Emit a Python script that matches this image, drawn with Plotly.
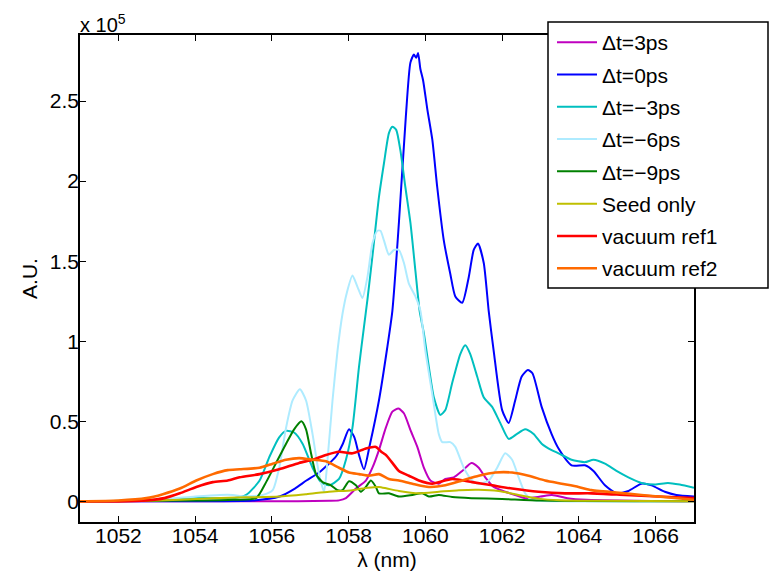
import plotly.graph_objects as go

# Spectra (wavelength in nm, intensity in units of 1e5 counts)
wl_p3 = [1051, 1056.0, 1057.5, 1057.75, 1057.93, 1058.19, 1058.45, 1058.62, 1058.79, 1058.97,
         1059.14, 1059.3, 1059.44, 1059.62, 1059.79, 1059.96, 1060.13, 1060.35, 1060.52, 1060.74,
         1060.96, 1061.2, 1061.39, 1061.56, 1061.78, 1062.08, 1062.34, 1062.6, 1063.0, 1063.3,
         1063.7, 1064.2, 1067]
dt_p3 = [0, 0.0, 0.003, 0.006, 0.02, 0.08, 0.13, 0.21, 0.32, 0.46,
         0.56, 0.58, 0.55, 0.44, 0.34, 0.21, 0.13, 0.11, 0.14, 0.15,
         0.19, 0.24, 0.21, 0.15, 0.09, 0.06, 0.04, 0.02, 0.03, 0.04,
         0.02, 0.01, 0]

wl_0 = [1051, 1054, 1055.5, 1056.2, 1056.6, 1056.9, 1057.23, 1057.67, 1057.85, 1058.01,
        1058.15, 1058.27, 1058.4, 1058.55, 1058.79, 1059.0, 1059.14, 1059.31, 1059.49, 1059.61,
        1059.7, 1059.76, 1059.81, 1059.87, 1059.94, 1060.05, 1060.18, 1060.31, 1060.48, 1060.65,
        1060.78, 1060.96, 1061.13, 1061.26, 1061.37, 1061.52, 1061.65, 1061.78, 1062.0, 1062.17,
        1062.34, 1062.51, 1062.67, 1062.79, 1063.03, 1063.29, 1063.47, 1063.81, 1064.16, 1064.38,
        1064.68, 1064.98, 1065.29, 1065.63, 1065.89, 1066.24, 1066.54, 1067]
dt_0 = [0, 0.0, 0.005, 0.03, 0.08, 0.13, 0.18, 0.28, 0.36, 0.45,
        0.40, 0.29, 0.20, 0.35, 0.63, 0.95, 1.19, 1.74, 2.40, 2.74,
        2.79, 2.77, 2.80, 2.70, 2.63, 2.45, 2.26, 1.96, 1.63, 1.42,
        1.28, 1.24, 1.40, 1.57, 1.61, 1.49, 1.19, 0.94, 0.57, 0.49,
        0.63, 0.78, 0.82, 0.80, 0.59, 0.42, 0.33, 0.225, 0.225, 0.19,
        0.10, 0.05, 0.065, 0.11, 0.10, 0.06, 0.04, 0.03]

wl_m3 = [1051, 1053, 1054, 1055.0, 1055.33, 1055.68, 1055.94, 1056.19, 1056.37, 1056.58,
         1056.8, 1057.06, 1057.28, 1057.49, 1057.75, 1057.93, 1058.1, 1058.27, 1058.4, 1058.49,
         1058.62, 1058.79, 1058.92, 1059.05, 1059.14, 1059.24, 1059.35, 1059.48, 1059.61, 1059.74,
         1059.85, 1059.96, 1060.09, 1060.22, 1060.39, 1060.52, 1060.7, 1060.91, 1061.04, 1061.17,
         1061.35, 1061.52, 1061.74, 1061.95, 1062.17, 1062.38, 1062.6, 1062.82, 1063.03, 1063.29,
         1063.47, 1063.81, 1064.16, 1064.38, 1064.68, 1064.98, 1065.29, 1065.63, 1065.98, 1066.32,
         1066.63, 1067]
dt_m3 = [0, 0.005, 0.02, 0.02, 0.04, 0.13, 0.28, 0.40, 0.44, 0.43,
         0.36, 0.21, 0.12, 0.10, 0.14, 0.26, 0.46, 0.84, 1.09, 1.26,
         1.53, 1.90, 2.11, 2.30, 2.34, 2.32, 2.19, 1.96, 1.74, 1.44,
         1.19, 1.05, 0.84, 0.65, 0.54, 0.57, 0.74, 0.92, 0.975, 0.92,
         0.78, 0.65, 0.59, 0.49, 0.39, 0.42, 0.45, 0.42, 0.36, 0.32,
         0.30, 0.26, 0.245, 0.26, 0.235, 0.19, 0.15, 0.115, 0.105, 0.115,
         0.105, 0.085]

wl_m6 = [1051, 1053, 1054, 1054.64, 1054.98, 1055.33, 1055.76, 1056.02, 1056.19, 1056.37,
         1056.54, 1056.73, 1056.89, 1057.06, 1057.23, 1057.36, 1057.45, 1057.58, 1057.71, 1057.84,
         1057.95, 1058.1, 1058.23, 1058.36, 1058.49, 1058.62, 1058.75, 1058.83, 1058.92, 1059.05,
         1059.18, 1059.31, 1059.44, 1059.57, 1059.74, 1059.87, 1060.0, 1060.18, 1060.35, 1060.44,
         1060.65, 1060.78, 1061.0, 1061.22, 1061.39, 1061.65, 1061.87, 1062.08, 1062.26, 1062.43,
         1062.6, 1062.77, 1063.5, 1067]
dt_m6 = [0, 0.01, 0.03, 0.04, 0.04, 0.03, 0.04, 0.07, 0.21, 0.46,
         0.63, 0.70, 0.63, 0.42, 0.17, 0.06, 0.26, 0.63, 0.94, 1.17,
         1.30, 1.41, 1.34, 1.27, 1.40, 1.61, 1.69, 1.69, 1.63, 1.54,
         1.57, 1.57, 1.49, 1.36, 1.28, 1.19, 0.94, 0.67, 0.42, 0.37,
         0.37, 0.34, 0.21, 0.13, 0.11, 0.13, 0.21, 0.30, 0.26, 0.15,
         0.05, 0.01, 0.0, 0]

wl_m9 = [1051, 1054, 1055.0, 1055.59, 1055.85, 1056.11, 1056.37, 1056.58, 1056.77, 1056.89,
         1057.02, 1057.15, 1057.32, 1057.54, 1057.71, 1057.84, 1058.01, 1058.19, 1058.32, 1058.45,
         1058.58, 1058.71, 1058.79, 1059.05, 1059.31, 1059.66, 1059.92, 1060.09, 1060.35, 1060.7,
         1061.2, 1062.0, 1063.0, 1067]
dt_m9 = [0, 0.005, 0.01, 0.02, 0.12, 0.24, 0.36, 0.45, 0.50, 0.45,
         0.30, 0.17, 0.12, 0.10, 0.07, 0.07, 0.125, 0.10, 0.06, 0.09,
         0.13, 0.09, 0.05, 0.05, 0.03, 0.04, 0.05, 0.03, 0.04, 0.027,
         0.02, 0.015, 0.005, 0]

wl_seed = [1051, 1052.5, 1053.6, 1054.46, 1055.3, 1056.19, 1056.9, 1057.49, 1058.1, 1058.5,
           1058.79, 1059.0, 1059.31, 1059.83, 1060.35, 1060.87, 1061.39, 1061.91, 1062.43, 1062.95,
           1063.5, 1064.5, 1067]
seed = [0, 0.003, 0.01, 0.02, 0.025, 0.03, 0.045, 0.06, 0.07, 0.085,
        0.09, 0.08, 0.065, 0.05, 0.06, 0.07, 0.073, 0.065, 0.04, 0.017,
        0.007, 0.003, 0]

wl_vac1 = [1051, 1052, 1052.73, 1053.2, 1053.6, 1054.03, 1054.46, 1054.85, 1055.16, 1055.68,
           1056.19, 1056.71, 1057.06, 1057.41, 1057.75, 1058.1, 1058.45, 1058.71, 1058.85, 1058.97,
           1059.14, 1059.31, 1059.57, 1059.83, 1060.18, 1060.7, 1061.22, 1061.74, 1062.26, 1062.95,
           1063.64, 1064.33, 1065.2, 1066.06, 1067]
vac1 = [0, 0.0, 0.006, 0.02, 0.05, 0.09, 0.12, 0.13, 0.15, 0.17,
        0.20, 0.24, 0.26, 0.29, 0.31, 0.30, 0.33, 0.34, 0.31, 0.29,
        0.24, 0.19, 0.16, 0.13, 0.11, 0.14, 0.12, 0.10, 0.08, 0.06,
        0.05, 0.05, 0.04, 0.03, 0.02]

wl_vac2 = [1051, 1052, 1052.73, 1053.16, 1053.6, 1054.03, 1054.46, 1054.85, 1055.16, 1055.68,
           1056.02, 1056.37, 1056.71, 1057.06, 1057.41, 1057.75, 1058.01, 1058.27, 1058.53, 1058.79,
           1059.05, 1059.31, 1059.66, 1060.09, 1060.52, 1060.96, 1061.39, 1061.82, 1062.26, 1062.69,
           1063.12, 1063.55, 1063.99, 1064.33, 1065.2, 1066.06, 1067]
vac2 = [0, 0.005, 0.02, 0.045, 0.08, 0.13, 0.17, 0.195, 0.20, 0.21,
        0.235, 0.26, 0.27, 0.26, 0.25, 0.21, 0.18, 0.17, 0.16, 0.17,
        0.14, 0.13, 0.11, 0.09, 0.10, 0.13, 0.16, 0.18, 0.18, 0.16,
        0.13, 0.11, 0.09, 0.07, 0.05, 0.03, 0.01]

names = ["\u0394t=3ps", "\u0394t=0ps", "\u0394t=\u22123ps", "\u0394t=\u22126ps", "\u0394t=\u22129ps",
         "Seed only", "vacuum ref1", "vacuum ref2"]
colors = ["#BF00BF", "#0000FF", "#00BFBF", "#AEEBFF", "#008000", "#BFBF00", "#FF0000", "#FF6A00"]
widths = [2, 2, 2, 2, 2, 2, 2.6, 2.6]
series = [(wl_p3, dt_p3), (wl_0, dt_0), (wl_m3, dt_m3), (wl_m6, dt_m6), (wl_m9, dt_m9),
          (wl_seed, seed), (wl_vac1, vac1), (wl_vac2, vac2)]

x_ticks = [1052, 1054, 1056, 1058, 1060, 1062, 1064, 1066]
y_ticks = [0, 0.5, 1, 1.5, 2, 2.5]
y_ticktext = ["0", "0.5", "1", "1.5", "2", "2.5"]

FONT = "Liberation Sans, Arial, Helvetica, sans-serif"
FS = 21

fig = go.Figure()
for (x, y), name, c, w in zip(series, names, colors, widths):
    fig.add_trace(go.Scatter(x=x, y=y, mode="lines", name=name, legendgroup=name,
                             line=dict(color=c, width=w, shape="spline", smoothing=0.6)))

axis_common = dict(showline=True, linecolor="black", linewidth=1.5, mirror="ticks",
                   ticks="inside", ticklen=6, tickwidth=1, tickcolor="black",
                   showgrid=False, zeroline=False, automargin=False,
                   tickfont=dict(family=FONT, size=FS, color="black"))

# plot area spans 80..694 px horizontally and 35..522 px vertically
L, R, T, B = 80, 694, 35, 522
def px_x(p):
    return (p - L) / (R - L)
def px_y(p):
    return (B - p) / (B - T)

fig.update_layout(
    width=771, height=571,
    margin=dict(l=L, r=771 - R, t=T, b=571 - B, autoexpand=False),
    paper_bgcolor="white", plot_bgcolor="white",
    font=dict(family=FONT, size=FS, color="black"),
    xaxis=dict(range=[1051, 1067], tickvals=x_ticks, ticklabelstandoff=-6,
               title=dict(text="\u03bb (nm)", font=dict(family=FONT, size=FS), standoff=14),
               **axis_common),
    yaxis=dict(range=[-0.129, 2.9125], tickvals=y_ticks, ticktext=y_ticktext,
               ticklabelstandoff=-5,
               title=dict(text="A.U.", font=dict(family=FONT, size=FS), standoff=6),
               **axis_common),
    legend=dict(x=px_x(552), y=px_y(22), xanchor="left", yanchor="top",
                bgcolor="rgba(0,0,0,0)", borderwidth=0,
                font=dict(family=FONT, size=FS, color="black"),
                tracegroupgap=2, itemwidth=40),
    showlegend=True,
    shapes=[dict(type="rect", xref="paper", yref="paper",
                 x0=px_x(548), x1=px_x(768), y0=px_y(288), y1=px_y(22),
                 line=dict(color="black", width=1.5), fillcolor="white", layer="above")],
    annotations=[dict(text="x 10<sup>5</sup>", xref="paper", yref="paper", x=0, y=1,
                      xanchor="left", yanchor="bottom", showarrow=False, yshift=-3, xshift=-2,
                      font=dict(family=FONT, size=20, color="black"))],
)

fig.write_html("out.html")
